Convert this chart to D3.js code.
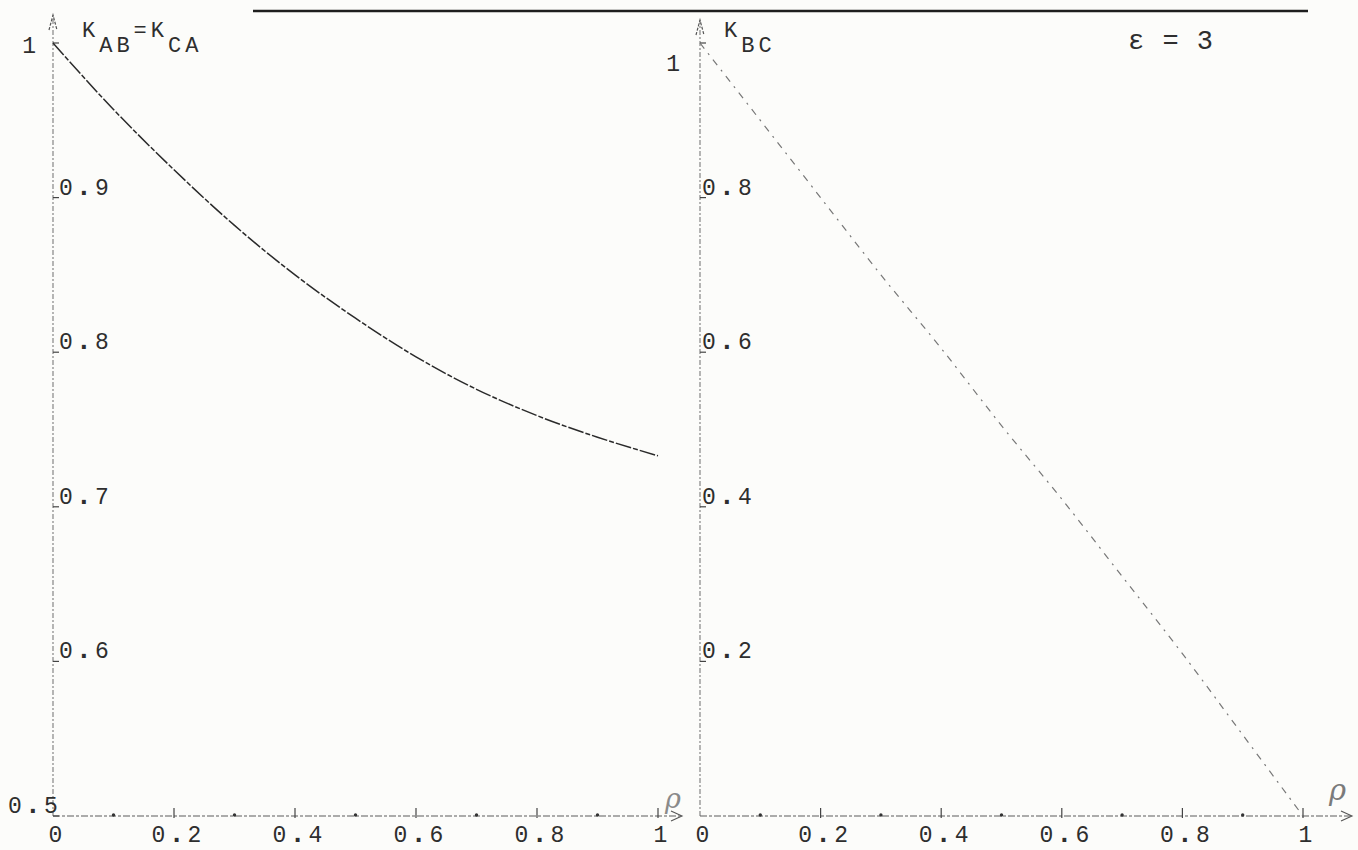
<!DOCTYPE html>
<html><head><meta charset="utf-8">
<script src="https://cdn.jsdelivr.net/npm/d3@7"></script>
<style>
html,body{margin:0;padding:0;background:#fcfcfa;}
svg{display:block;}
text{font-family:"Liberation Mono","DejaVu Sans Mono",monospace;fill:#2e2e2e;}
</style></head>
<body>
<svg id="c" width="1358" height="850"></svg>
<script>
// ---- data ----
const rhoLeft = [0, 0.1, 0.2, 0.3, 0.4, 0.5, 0.6, 0.7, 0.8, 0.9, 1.0];
const kABeqCA = [1.0, 0.957, 0.918, 0.882, 0.850, 0.822, 0.797, 0.776, 0.759, 0.745, 0.733];
const rhoRight = [0, 0.1, 0.2, 0.3, 0.4, 0.5, 0.6, 0.7, 0.8, 0.9, 1.0];
const kBC = [1.0, 0.90, 0.80, 0.70, 0.605, 0.505, 0.41, 0.31, 0.21, 0.105, 0.0];
const xTickValues = [0, 0.2, 0.4, 0.6, 0.8, 1];
const xTickLabels = ["0", "0.2", "0.4", "0.6", "0.8", "1"];
const xMinorValues = [0.1, 0.3, 0.5, 0.7, 0.9];
const yLeftTickValues = [0.5, 0.6, 0.7, 0.8, 0.9, 1];
const yLeftTickLabels = ["0.5", "0.6", "0.7", "0.8", "0.9", "1"];
const yRightTickValues = [0.2, 0.4, 0.6, 0.8, 1];
const yRightTickLabels = ["0.2", "0.4", "0.6", "0.8", "1"];
const titleLeft = ["K", "AB", "=K", "CA"];
const titleRight = ["K", "BC"];
const note = "ε = 3";
const axisName = "ρ";

// ---- layout ----
const svg = d3.select("#c");
const yBase = 816, yTop = 43;
const xL = d3.scaleLinear().domain([0, 1]).range([53, 658]);
const xR = d3.scaleLinear().domain([0, 1]).range([700, 1303]);
const yL = d3.scaleLinear().domain([0.5, 1]).range([yBase, yTop]);
const yR = d3.scaleLinear().domain([0, 1]).range([yBase, yTop]);

const axisCol = "#7a7a7a";
const labelSize = 23;

// typewriter-like label: heavy bullet for the decimal point
function tw(sel, str) {
  str.split("").forEach(ch => {
    const ts = sel.append("tspan").text(ch);
    if (ch === ".") ts.attr("font-weight", "bold").attr("font-size", labelSize + 4);
  });
  return sel;
}

// top rule
svg.append("line").attr("x1", 253).attr("x2", 1308).attr("y1", 11).attr("y2", 11)
  .attr("stroke", "#1e1e1e").attr("stroke-width", 2.4);

function panel(x, y, yTicks, xEnd, arrowTopY) {
  const x0 = x(0);
  svg.append("line").attr("x1", x0).attr("x2", x0).attr("y1", yBase).attr("y2", arrowTopY)
    .attr("stroke", axisCol).attr("stroke-width", 1.1).attr("stroke-dasharray", "5 2 2 2");
  svg.append("path").attr("d", `M${x0 - 4},${arrowTopY + 15}L${x0},${arrowTopY}L${x0 + 4},${arrowTopY + 15}`)
    .attr("fill", "none").attr("stroke", "#555").attr("stroke-width", 1.2).attr("stroke-dasharray", "3 1.5");
  svg.append("line").attr("x1", x0).attr("x2", xEnd).attr("y1", yBase).attr("y2", yBase)
    .attr("stroke", "#5a5a5a").attr("stroke-width", 1.1).attr("stroke-dasharray", "7 2 3 2");
  svg.append("path").attr("d", `M${xEnd - 11},${yBase - 5}L${xEnd},${yBase}L${xEnd - 11},${yBase + 5}`)
    .attr("fill", "none").attr("stroke", "#555").attr("stroke-width", 1.1);
  svg.selectAll(null).data(xTickValues.slice(1)).enter().append("line")
    .attr("x1", d => x(d)).attr("x2", d => x(d)).attr("y1", yBase - 8).attr("y2", yBase + 2)
    .attr("stroke", "#444").attr("stroke-width", 1.2);
  svg.selectAll(null).data(xMinorValues).enter().append("circle")
    .attr("cx", d => x(d)).attr("cy", yBase - 1).attr("r", 1.7).attr("fill", "#333");
  svg.selectAll(null).data(xTickValues).enter().append("text")
    .attr("x", d => x(d) + 4).attr("y", yBase + 26).attr("text-anchor", "middle")
    .attr("font-size", labelSize).attr("letter-spacing", 3)
    .each(function(d, i) { tw(d3.select(this), xTickLabels[i]); });
  svg.selectAll(null).data(yTicks).enter().append("line")
    .attr("x1", x0).attr("x2", x0 + 6).attr("y1", d => y(d)).attr("y2", d => y(d))
    .attr("stroke", "#444").attr("stroke-width", 1.2);
}

panel(xL, yL, yLeftTickValues, 682, 15);
panel(xR, yR, yRightTickValues, 1352, 20);

yLeftTickValues.forEach((v, i) => {
  const lab = yLeftTickLabels[i];
  let t;
  if (v === 1) {
    t = svg.append("text").attr("x", xL(0) - 14).attr("y", yL(v) + 10).attr("text-anchor", "end");
  } else if (v === 0.5) {
    t = svg.append("text").attr("x", 8).attr("y", yL(v) - 3);
  } else {
    t = svg.append("text").attr("x", xL(0) + 6).attr("y", yL(v) - 3);
  }
  t.attr("font-size", labelSize).attr("letter-spacing", 3);
  tw(t, lab);
});
yRightTickValues.forEach((v, i) => {
  const lab = yRightTickLabels[i];
  let t;
  if (v === 1) {
    t = svg.append("text").attr("x", xR(0) - 17).attr("y", yR(v) + 28).attr("text-anchor", "end");
  } else {
    t = svg.append("text").attr("x", xR(0) + 2).attr("y", yR(v) - 3);
  }
  t.attr("font-size", labelSize).attr("letter-spacing", 3);
  tw(t, lab);
});

function subTitle(x, parts) {
  const t = svg.append("text").attr("x", x).attr("y", 37).attr("font-size", 22).attr("letter-spacing", 4);
  parts.forEach((p, i) => {
    t.append("tspan").attr("dy", i === 0 ? 0 : (i % 2 === 1 ? 15 : -15)).text(p);
  });
}
subTitle(xL(0) + 29, titleLeft);
subTitle(xR(0) + 24, titleRight);

svg.append("text").attr("x", 1128).attr("y", 49).attr("font-size", 27).attr("letter-spacing", 1).text(note);

svg.append("text").attr("x", 665).attr("y", 808).attr("font-size", 27).attr("font-style", "italic")
  .style("font-family", "'DejaVu Serif',serif").style("fill", "#8a8a8a").text(axisName);
svg.append("text").attr("x", 1329).attr("y", 800).attr("font-size", 29).attr("font-style", "italic")
  .style("font-family", "'DejaVu Serif',serif").style("fill", "#7a7a7a").text(axisName);

const lineL = d3.line().x((d, i) => xL(rhoLeft[i])).y(d => yL(d)).curve(d3.curveMonotoneX);
svg.append("path").datum(kABeqCA).attr("d", lineL).attr("fill", "none")
  .attr("stroke", "#2a2a2a").attr("stroke-width", 1.5).attr("stroke-dasharray", "16 2 5 2");
const lineR = d3.line().x((d, i) => xR(rhoRight[i])).y(d => yR(d)).curve(d3.curveMonotoneX);
svg.append("path").datum(kBC).attr("d", lineR).attr("fill", "none")
  .attr("stroke", "#777").attr("stroke-width", 1.2).attr("stroke-dasharray", "7 6 2 6");
</script>
</body></html>
